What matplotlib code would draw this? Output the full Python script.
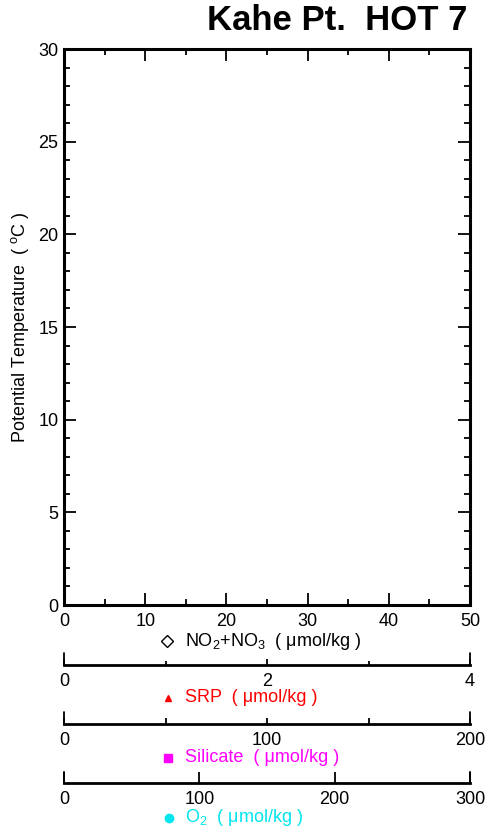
import matplotlib
matplotlib.use("Agg")
import matplotlib.pyplot as plt
from matplotlib.lines import Line2D

plt.rcParams['font.family'] = ['Liberation Sans', 'DejaVu Sans']
plt.rcParams['mathtext.fontset'] = 'custom'
plt.rcParams['mathtext.rm'] = 'Liberation Sans'
plt.rcParams['mathtext.it'] = 'Liberation Sans:italic'
plt.rcParams['mathtext.bf'] = 'Liberation Sans:bold'

# ---- data (the reference plot shows no data points) ----
theta = []          # potential temperature (°C)
no2_no3 = []        # NO2+NO3 (umol/kg)
srp = []            # SRP (umol/kg)
silicate = []       # Silicate (umol/kg)
o2 = []             # O2 (umol/kg)

title = "Kahe Pt.  HOT 7"
main_xticks = [0, 10, 20, 30, 40, 50]
main_yticks = [0, 5, 10, 15, 20, 25, 30]
srp_ticks = [0, 2, 4]
sil_ticks = [0, 100, 200]
o2_ticks = [0, 100, 200, 300]

FS = 13

W, H = 492, 835
fig = plt.figure(figsize=(W / 100, H / 100), dpi=100)

def fx(px):
    return px / W

def fy(py):
    return 1 - py / H

L, R, T, B = 64, 470, 49, 605
ax = fig.add_axes([fx(L), fy(B), fx(R - L), fy(T) - fy(B)])
ax.set_xlim(0, 50)
ax.set_ylim(0, 30)
ax.set_xticks(main_xticks)
ax.set_yticks(main_yticks)
ax.set_xticks(range(0, 51, 5), minor=True)
ax.set_yticks(range(0, 31, 1), minor=True)
ax.tick_params(which='both', direction='in', top=True, right=True, width=1.3,
               labelsize=FS, colors='black')
ax.tick_params(which='major', length=8.5)
ax.tick_params(which='minor', length=4.5)
ax.tick_params(axis='x', which='major', pad=5.5)
ax.tick_params(axis='y', which='major', pad=4)
for s in ax.spines.values():
    s.set_linewidth(2.2)
ax.set_ylabel(r'Potential Temperature  ( $^{\mathrm{o}}$C )', fontsize=FS, labelpad=5)

ax.plot(no2_no3, theta, linestyle='none', marker='D', mfc='none', mec='black')

fig.text(fx(467), fy(21), title, ha='right', va='center', fontsize=25, fontweight='bold')

# legend-like labels under each axis
def label(xm, ytext, marker, color, text, ms, mfc=None):
    fig.add_artist(Line2D([fx(xm)], [fy(ytext)], transform=fig.transFigure,
                          marker=marker, color=color, mfc=mfc if mfc else color,
                          mec=color, ms=ms, linestyle='none'))
    fig.text(fx(185), fy(ytext), text, ha='left', va='center', fontsize=FS, color=color)

label(167, 641, 'D', 'black', r'NO$_2$+NO$_3$  ( μmol/kg )', 6, mfc='none')
ax.plot(srp, theta, linestyle='none', marker='^', color='red')

def sub_axis(yline, lim, ticks, minor, maj_len, min_len, cap_len, series):
    a = fig.add_axes([fx(L), fy(yline), fx(R - L), 0.001])
    a.patch.set_visible(False)
    for k in ('top', 'left', 'right'):
        a.spines[k].set_visible(False)
    a.spines['bottom'].set_linewidth(2.0)
    a.set_yticks([])
    a.set_xlim(*lim)
    a.set_xticks(ticks)
    a.set_xticks(minor, minor=True)
    a.tick_params(which='both', direction='in', width=1.3, labelsize=FS, pad=5.5)
    a.tick_params(which='major', length=maj_len)
    a.tick_params(which='minor', length=min_len)
    tr = a.get_xaxis_transform()
    for xv in lim:
        a.annotate('', xy=(xv, 0), xycoords=tr, xytext=(0, cap_len),
                   textcoords='offset points',
                   arrowprops=dict(arrowstyle='-', lw=1.3, color='black',
                                   shrinkA=0, shrinkB=0))
    a.plot(series, [0] * len(series), linestyle='none')
    return a

sub_axis(665, (0, 4), srp_ticks, [1, 3], 4, 3, 8.6, srp)
label(168, 698, '^', 'red', 'SRP  ( μmol/kg )', 5)

sub_axis(724, (0, 200), sil_ticks, [50, 150], 4.5, 4.5, 8.6, silicate)
label(168, 758, 's', '#FF00FF', 'Silicate  ( μmol/kg )', 6)

sub_axis(783, (0, 300), o2_ticks, [], 8, 0, 8, o2)
label(169, 818, 'o', '#00E5EE', r'O$_2$  ( μmol/kg )', 6)

fig.savefig('out.png', dpi=100)
